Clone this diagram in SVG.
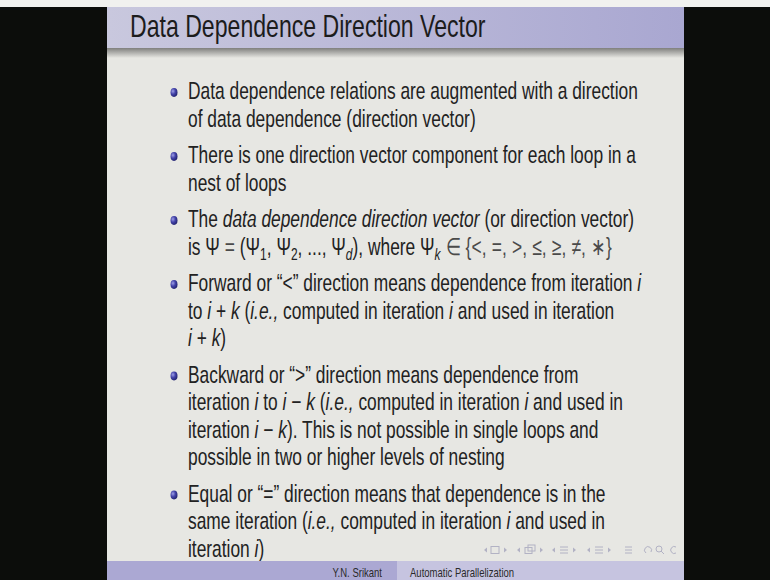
<svg xmlns="http://www.w3.org/2000/svg" width="770" height="580" viewBox="0 0 770 580">
  <defs>
    <linearGradient id="titleGrad" x1="0" x2="1" y1="0" y2="0">
      <stop offset="0" stop-color="#c9c8de"/>
      <stop offset="1" stop-color="#a9a7d1"/>
    </linearGradient>
    <linearGradient id="shadeGrad" x1="0" x2="0" y1="0" y2="1">
      <stop offset="0" stop-color="#7f7f7d"/>
      <stop offset="1" stop-color="#e7e7e3"/>
    </linearGradient>
    <radialGradient id="ball" cx="0.35" cy="0.35" r="0.75">
      <stop offset="0" stop-color="#a0a0e6"/>
      <stop offset="0.45" stop-color="#4444aa"/>
      <stop offset="1" stop-color="#1c1c66"/>
    </radialGradient>
  </defs>
  <style>
    .txt{font-family:"Liberation Sans",Arial,Helvetica,sans-serif;fill:#222}
    .body{font-size:24px}
    .title{font-size:31px;fill:#1c1c1c}
    .foot{font-size:12.6px;fill:#2a2a2a}
    .it{font-style:italic}
    .sub{font-size:16.5px}
    .rel{fill:#4a4a4a;letter-spacing:0.2px}
    .nav{fill:none;stroke:#b2b2c4;stroke-width:1}
    .navf{fill:#b2b2c4}
  </style>

  <!-- surround and page -->
  <rect x="0" y="0" width="770" height="580" fill="#0c0d0b"/>
  <rect x="0" y="0" width="770" height="7" fill="#f1f1ef"/>
  <rect x="107" y="7" width="577" height="573" fill="#e7e7e3"/>

  <!-- frame title bar -->
  <g id="titlebar">
    <rect x="107" y="7" width="577" height="41" fill="url(#titleGrad)"/>
    <rect x="107" y="48" width="577" height="10" fill="url(#shadeGrad)"/>
    <text class="txt title" transform="translate(130 37) scale(0.745 1)" x="0" y="0">Data Dependence Direction Vector</text>
  </g>

  <!-- bullets -->
  <g id="bullets">
    <ellipse cx="174" cy="92.5" rx="3.5" ry="4.4" fill="url(#ball)"/>
    <ellipse cx="174" cy="156.5" rx="3.5" ry="4.4" fill="url(#ball)"/>
    <ellipse cx="174" cy="220.5" rx="3.5" ry="4.4" fill="url(#ball)"/>
    <ellipse cx="174" cy="284.5" rx="3.5" ry="4.4" fill="url(#ball)"/>
    <ellipse cx="174" cy="376" rx="3.5" ry="4.4" fill="url(#ball)"/>
    <ellipse cx="174" cy="495" rx="3.5" ry="4.4" fill="url(#ball)"/>
  </g>

  <!-- item text, horizontally condensed -->
  <g id="items" class="txt body" transform="translate(188 0) scale(0.724 1)">
    <text x="0" y="99.2">Data dependence relations are augmented with a direction</text>
    <text x="0" y="126.7">of data dependence (direction vector)</text>
    <text x="0" y="163.2">There is one direction vector component for each loop in a</text>
    <text x="0" y="190.7">nest of loops</text>
    <text x="0" y="227.2">The <tspan class="it">data dependence direction vector</tspan> (or direction vector)</text>
    <text x="0" y="254.7">is Ψ <tspan class="rel">=</tspan> (Ψ<tspan class="sub" dy="5">1</tspan><tspan dy="-5">, Ψ</tspan><tspan class="sub" dy="5">2</tspan><tspan dy="-5">, ..., Ψ</tspan><tspan class="sub it" dy="5">d</tspan><tspan dy="-5">), where Ψ</tspan><tspan class="sub it" dy="5">k</tspan><tspan dy="-5" class="rel"> ∈ {&lt;, =, &gt;, ≤, ≥, ≠, ∗}</tspan></text>
    <text x="0" y="291.2">Forward or “&lt;” direction means dependence from iteration <tspan class="it">i</tspan></text>
    <text x="0" y="318.7">to <tspan class="it">i</tspan> + <tspan class="it">k</tspan> (<tspan class="it">i.e.,</tspan> computed in iteration <tspan class="it">i</tspan> and used in iteration</text>
    <text x="0" y="346.2"><tspan class="it">i</tspan> + <tspan class="it">k</tspan>)</text>
    <text x="0" y="382.7">Backward or “&gt;” direction means dependence from</text>
    <text x="0" y="410.2">iteration <tspan class="it">i</tspan> to <tspan class="it">i</tspan> − <tspan class="it">k</tspan> (<tspan class="it">i.e.,</tspan> computed in iteration <tspan class="it">i</tspan> and used in</text>
    <text x="0" y="437.7">iteration <tspan class="it">i</tspan> − <tspan class="it">k</tspan>). This is not possible in single loops and</text>
    <text x="0" y="465.2">possible in two or higher levels of nesting</text>
    <text x="0" y="501.7">Equal or “=” direction means that dependence is in the</text>
    <text x="0" y="529.2">same iteration (<tspan class="it">i.e.,</tspan> computed in iteration <tspan class="it">i</tspan> and used in</text>
    <text x="0" y="556.7">iteration <tspan class="it">i</tspan>)</text>
  </g>

  <!-- navigation symbols -->
  <g id="navigation">
    <polygon class="navf" points="484,550 487,547.5 487,552.5"/>
    <rect class="nav" x="491" y="546.5" width="8" height="7"/>
    <polygon class="navf" points="504,547.5 507,550 504,552.5"/>
    <polygon class="navf" points="517,550 520,547.5 520,552.5"/>
    <rect class="nav" x="525" y="547.5" width="7" height="6"/>
    <rect class="nav" x="528" y="545" width="7" height="6"/>
    <polygon class="navf" points="540,547.5 543,550 540,552.5"/>
    <polygon class="navf" points="552,550 555,547.5 555,552.5"/>
    <path class="nav" d="M560 547h8M560 550h8M560 553h8"/>
    <polygon class="navf" points="573,547.5 576,550 573,552.5"/>
    <polygon class="navf" points="587,550 590,547.5 590,552.5"/>
    <path class="nav" d="M595 547h8M595 550h8M595 553h8"/>
    <polygon class="navf" points="608,547.5 611,550 608,552.5"/>
    <path class="nav" d="M625 547h7M625 550h7M625 553h7"/>
    <path class="nav" d="M646 553a3.5 3.5 0 1 1 5 -1"/>
    <circle class="nav" cx="659" cy="549" r="3"/>
    <path class="nav" d="M661 551l3 3"/>
    <path class="nav" d="M676 547a3.5 3.5 0 1 0 0 6"/>
  </g>

  <!-- footline -->
  <g id="footline">
    <rect x="107" y="561" width="290" height="19" fill="#aba8d3"/>
    <rect x="397" y="561" width="287" height="19" fill="#c6c4e0"/>
    <text class="txt foot" transform="translate(382 577) scale(0.755 1)" x="0" y="0" text-anchor="end">Y.N. Srikant</text>
    <text class="txt foot" transform="translate(410 577) scale(0.755 1)" x="0" y="0">Automatic Parallelization</text>
  </g>
</svg>
